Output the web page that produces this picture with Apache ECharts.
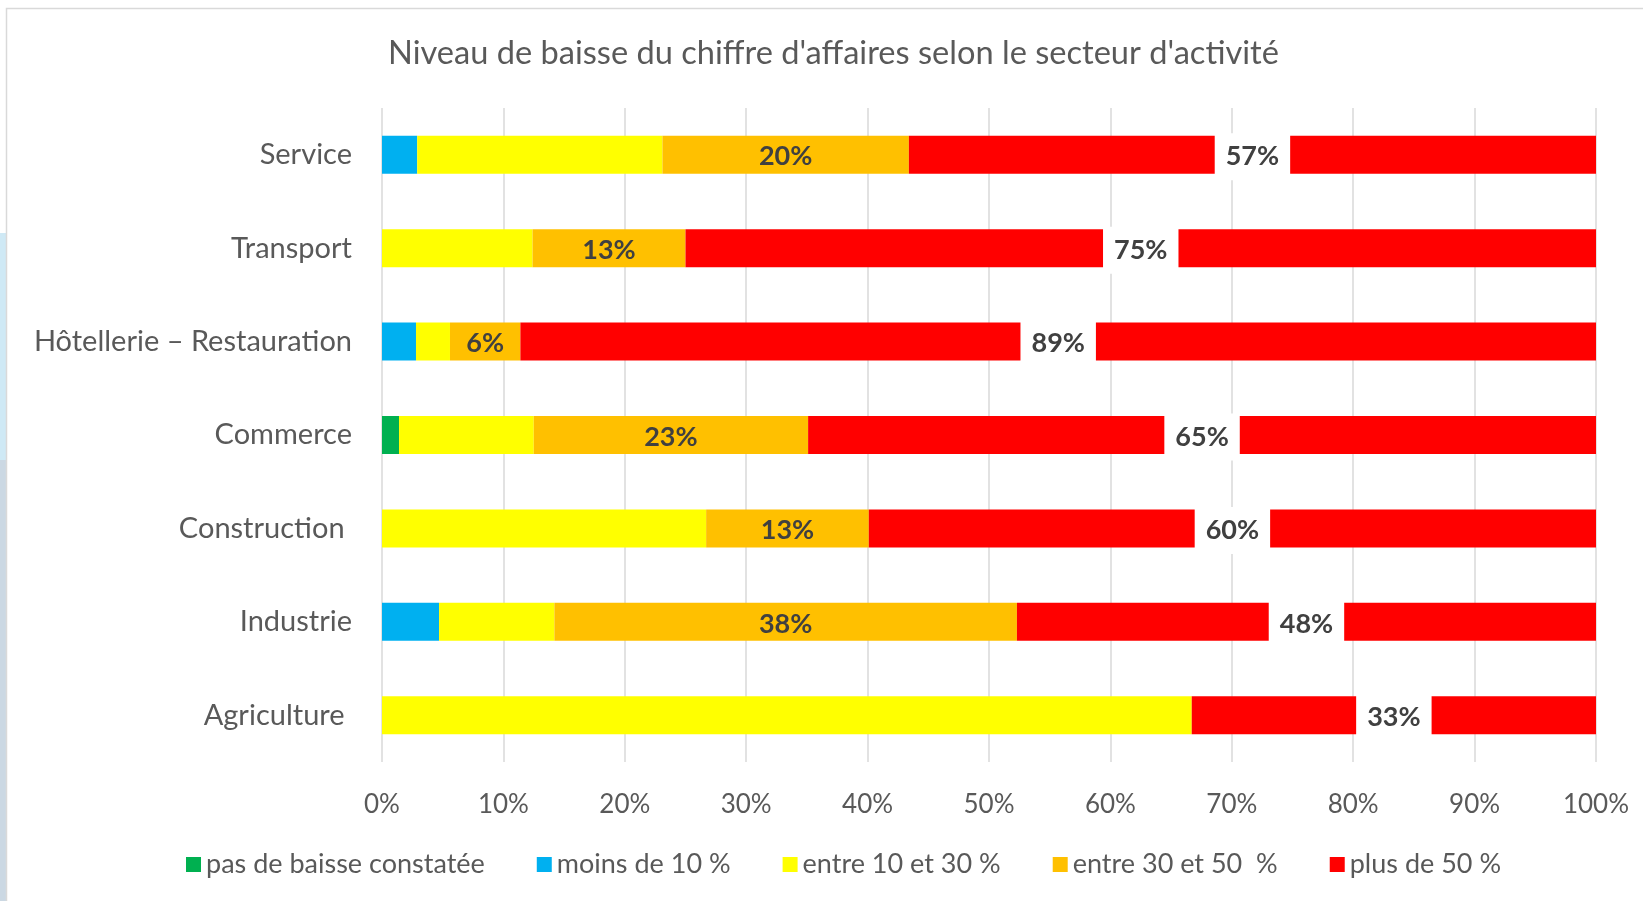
<!DOCTYPE html>
<html>
<head>
<meta charset="utf-8">
<script src="https://cdn.jsdelivr.net/npm/echarts@6/dist/echarts.min.js"></script>
<style>
  html, body { margin: 0; padding: 0; background: #fff; }
  #chart { width: 1643px; height: 901px; }
</style>
</head>
<body>
<div id="chart"></div>
<script>
// secteurs, de haut en bas
const secteurs = ['Service', 'Transport', 'Hôtellerie – Restauration', 'Commerce', 'Construction ', 'Industrie', 'Agriculture ']
// parts (%)
const pasDeBaisse = [0, 0, 0, 1.4, 0, 0, 0]
const moins10 = [2.9, 0, 2.8, 0, 0, 4.7, 0]
const entre10et30 = [20.2, 12.4, 2.8, 11.1, 26.7, 9.5, 66.7]
const entre30et50 = [20.3, 12.6, 5.8, 22.6, 13.4, 38.1, 0]
const plus50 = [56.6, 75.0, 88.6, 64.9, 59.9, 47.7, 33.3]
const noms = ['pas de baisse constatée', 'moins de 10 %', 'entre 10 et 30 %', 'entre 30 et 50  %', 'plus de 50 %']
const couleurs = ['#00B050', '#00B0F0', '#FFFF00', '#FFC000', '#FF0000']

const font = 'Lato'
const gris = '#595959'

const myChart = echarts.init(document.getElementById('chart'))

// pas d'étiquette pour les segments vides
const pct = (p) => (p.value > 0 ? Math.round(p.value) + '%' : '')

const mkSerie = (i, data, label) => ({
  name: noms[i],
  type: 'bar',
  stack: 'total',
  barWidth: 38,
  itemStyle: { color: couleurs[i] },
  label: label || { show: false },
  emphasis: { disabled: true },
  data: data,
})

const option = {
  animation: false,
  textStyle: { fontFamily: font },
  title: {
    text: "Niveau de baisse du chiffre d'affaires selon le secteur d'activité",
    left: 383,
    top: 32,
    textStyle: { fontFamily: font, fontSize: 32.6, fontWeight: 'normal', color: gris },
  },
  legend: {
    left: 181,
    top: 846,
    itemWidth: 15,
    itemHeight: 15,
    itemGap: 52,
    icon: 'rect',
    textStyle: { fontFamily: font, fontSize: 27, color: gris },
    data: noms,
  },
  grid: { left: 382, right: 47, top: 108, bottom: 139 },
  xAxis: {
    type: 'value',
    min: 0,
    max: 100,
    interval: 10,
    axisLine: { show: false },
    axisTick: { show: false },
    axisLabel: { formatter: '{value}%', fontFamily: font, fontSize: 26, color: gris, margin: 30 },
    splitLine: { lineStyle: { color: '#D9D9D9', width: 1.5 } },
  },
  yAxis: {
    type: 'category',
    inverse: true,
    data: secteurs,
    axisLine: { show: false },
    axisTick: { show: false },
    axisLabel: { fontFamily: font, fontSize: 29, color: gris, margin: 30 },
  },
  graphic: [
    { type: 'rect', z: -10, shape: { x: 0, y: 233, width: 6, height: 227 }, style: { fill: '#CFE9F5' } },
    { type: 'rect', z: -10, shape: { x: 0, y: 460, width: 6, height: 441 }, style: { fill: '#CBD8E3' } },
    { type: 'rect', z: -10, shape: { x: 6.5, y: 8.5, width: 1700, height: 1000 }, style: { fill: 'none', stroke: '#D9D9D9', lineWidth: 1.5 } },
  ],
  series: [
    mkSerie(0, pasDeBaisse),
    mkSerie(1, moins10),
    mkSerie(2, entre10et30),
    mkSerie(3, entre30et50, {
      show: true,
      position: 'inside',
      offset: [0, 2],
      formatter: pct,
      fontFamily: font,
      fontSize: 27,
      fontWeight: 'bold',
      color: '#404040',
    }),
    mkSerie(4, plus50, {
      show: true,
      position: 'inside',
      offset: [0, 2],
      formatter: pct,
      fontFamily: font,
      fontSize: 27,
      fontWeight: 'bold',
      color: '#404040',
      backgroundColor: '#fff',
      padding: [10, 11],
    }),
  ],
}
myChart.setOption(option)
</script>
</body>
</html>
